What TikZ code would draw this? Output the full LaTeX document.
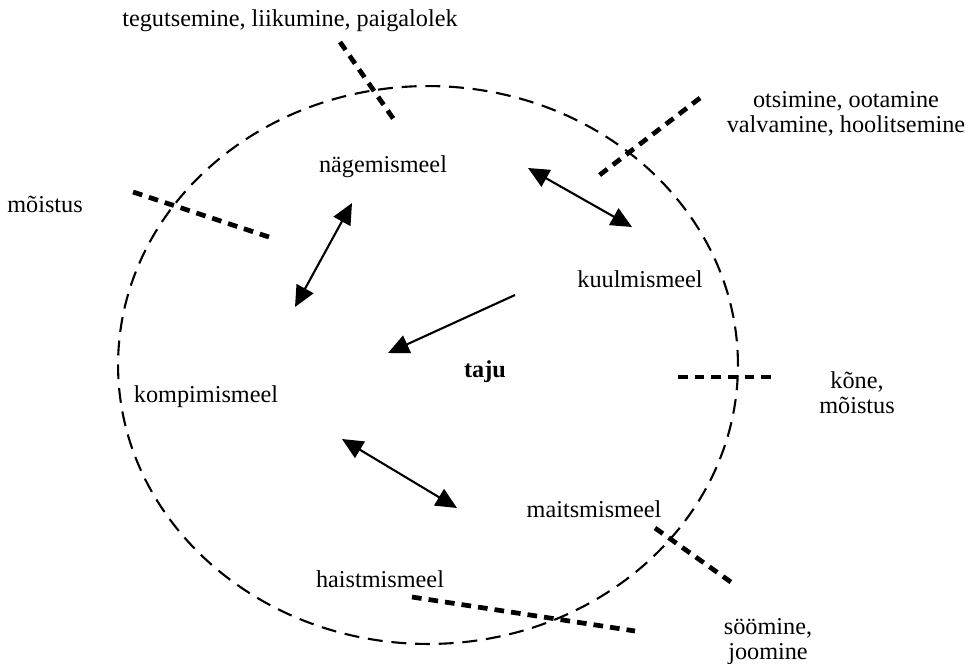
\documentclass[tikz,border=0pt]{standalone}
\usepackage{fontspec}
\setmainfont{Liberation Serif}
\usetikzlibrary{arrows.meta}
\begin{document}
\begin{tikzpicture}[x=0.02cm, y=-0.02cm,
        font=\fontsize{13.8}{14.2}\selectfont,
        meel/.style={anchor=base, inner sep=0pt},
        silt/.style={anchor=base, inner sep=0pt, align=center},
        piir/.style={line width=2.7pt, dash pattern=on 5.5pt off 4pt},
        kaksnool/.style={line width=1.2pt, {Triangle[length=0.42cm,width=0.38cm]}-{Triangle[length=0.42cm,width=0.38cm]}},
        nool/.style={line width=1.2pt, -{Triangle[length=0.42cm,width=0.38cm]}}]
            \useasboundingbox (0,0) rectangle (969,663);

            \draw[line width=1.2pt, dash pattern=on 8.5pt off 5pt] (428,365) ellipse [x radius=6.2cm, y radius=5.58cm];

            \node[meel] (NM) at (383,172) {nägemismeel};
            \node[meel] (KU) at (640,287) {kuulmismeel};
            \node[meel] (KO) at (206,402) {kompimismeel};
            \node[meel] (MA) at (594,517) {maitsmismeel};
            \node[meel] (HA) at (380,587) {haistmismeel};
            \node[meel] (TA) at (485,377) {\textbf{taju}};

            \node[meel] (TE) at (290,26) {tegutsemine, liikumine, paigalolek};
            \node[meel] (MO) at (45,212) {mõistus};
            \node[silt] (OT) at (846,132) {otsimine, ootamine\\valvamine, hoolitsemine};
            \node[silt] (KM) at (857,413) {kõne,\\mõistus};
            \node[silt] (SO) at (768,659) {söömine,\\joomine};

            \coordinate (A1) at (295,307);
            \coordinate (A2) at (352,203);
            \coordinate (B1) at (528,168);
            \coordinate (B2) at (632,227);
            \coordinate (C1) at (515,295);
            \coordinate (C2) at (388,353);
            \coordinate (D1) at (342,439);
            \coordinate (D2) at (457,508);

            \draw[kaksnool] (A1) -- (A2);
            \draw[kaksnool] (B1) -- (B2);
            \draw[nool] (C1) -- (C2);
            \draw[kaksnool] (D1) -- (D2);

            \coordinate (P1) at (340,42);
            \coordinate (P2) at (397,124);
            \coordinate (Q1) at (133,192);
            \coordinate (Q2) at (272,238);
            \coordinate (R1) at (700,98);
            \coordinate (R2) at (597,177);
            \coordinate (S1) at (678,377);
            \coordinate (S2) at (777,377);
            \coordinate (T1) at (655,528);
            \coordinate (T2) at (735,585);
            \coordinate (U1) at (412,597);
            \coordinate (U2) at (635,631);

            \draw[piir] (P1) -- (P2);
            \draw[piir] (Q1) -- (Q2);
            \draw[piir] (R1) -- (R2);
            \draw[piir] (S1) -- (S2);
            \draw[piir] (T1) -- (T2);
            \draw[piir] (U1) -- (U2);
        \end{tikzpicture}
\end{document}
